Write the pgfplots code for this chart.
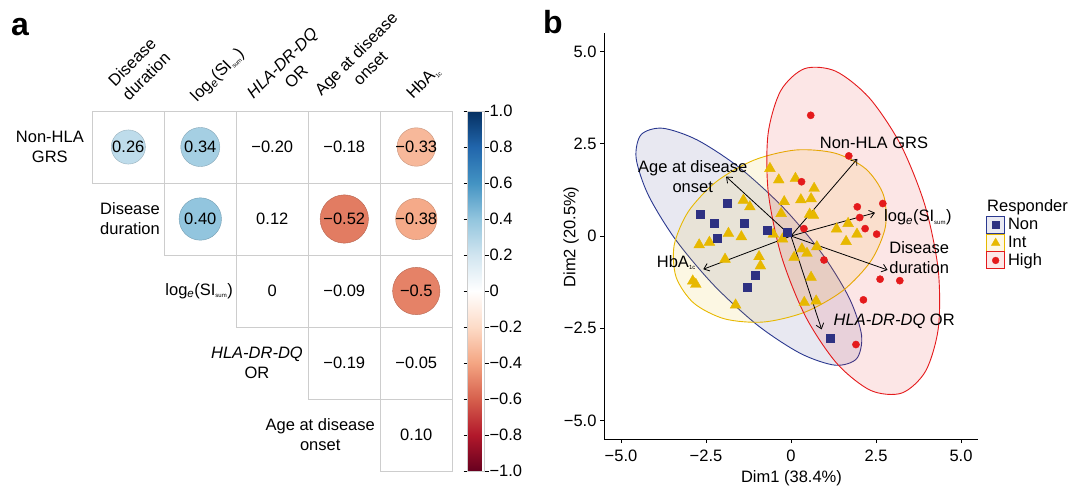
\documentclass[border=0pt]{standalone}
\usepackage{fontspec}
\setmainfont{Liberation Sans}
\usepackage{pgfplots}
\pgfplotsset{compat=1.18}
\usepackage{pgfplotstable}
\usetikzlibrary{arrows.meta}

\definecolor{nonc}{RGB}{46,49,130}
\definecolor{nonline}{RGB}{43,57,144}
\definecolor{intc}{RGB}{231,184,0}
\definecolor{highc}{RGB}{228,26,28}
\definecolor{gridc}{RGB}{205,205,205}

\newcommand\lbl{\fontsize{16.5}{20}\selectfont}
\newcommand\tinysub[1]{\textsubscript{\fontsize{6}{6}\selectfont #1}}

% panel a: significant correlations (column, -row, r)
\pgfplotstableread{
c r val
0 0 0.26
1 0 0.34
4 0 -0.33
1 -1 0.40
3 -1 -0.52
4 -1 -0.38
4 -2 -0.50
}\corsig

% panel a: all printed coefficients
\pgfplotstableread{
c r lab
0 0 0.26
1 0 0.34
2 0 −0.20
3 0 −0.18
4 0 −0.33
1 -1 0.40
2 -1 0.12
3 -1 −0.52
4 -1 −0.38
2 -2 0
3 -2 −0.09
4 -2 −0.5
3 -3 −0.19
4 -3 −0.05
4 -4 0.10
}\corlab

% panel b: individuals
\pgfplotstableread{
x y
-1.89 0.88
-2.68 0.58
-2.27 0.34
-1.39 0.36
-2.16 -0.07
-0.71 0.15
-0.10 0.10
-1.06 -1.05
-1.30 -1.40
1.16 -2.76
}\nonpts

\pgfplotstableread{
x y
-0.62 1.83
-0.36 1.52
0.13 1.56
0.68 1.29
0.29 0.98
0.59 1.01
-0.20 0.93
-0.29 0.61
0.55 0.59
0.66 0.56
-1.40 0.97
-1.21 0.79
-1.84 0.07
-1.46 -0.02
-2.40 -0.17
-2.70 -0.24
-0.52 0.05
-0.25 -0.08
1.34 0.19
1.68 0.34
1.94 0.05
1.62 -0.15
0.32 -0.35
0.47 -0.47
0.09 -0.58
0.76 -0.29
-1.94 -0.63
-0.94 -0.56
-0.90 -0.81
0.59 -1.12
-2.89 -1.22
-2.80 -1.31
-1.63 -1.87
0.39 -1.80
0.74 -1.76
}\intpts

\pgfplotstableread{
x y
0.58 3.27
1.70 2.17
0.31 1.47
1.95 0.79
2.70 0.88
2.02 0.50
2.18 0.20
2.52 0.05
0.38 0.20
0.97 -0.65
2.62 -1.17
3.20 -1.21
2.13 -1.73
1.91 -2.94
}\highpts

% variable loadings (arrows from the origin)
\pgfplotstableread{
x y u v
0 0 -1.91 1.61
0 0 1.95 2.09
0 0 2.47 0.63
0 0 2.84 -0.92
0 0 0.90 -2.53
0 0 -2.58 -0.90
}\loadings

\begin{document}
\begin{tikzpicture}
\useasboundingbox (0pt,0pt) rectangle (1071pt,-488pt);

% ---------------- panel a ----------------
\node[anchor=base west, inner sep=0pt, font=\fontsize{32}{32}\selectfont\bfseries] at (11pt,-35pt) {a};

\foreach \r in {0,...,4}{
  \foreach \c in {\r,...,4}{
    \draw[gridc, line width=0.8pt] ({92.3pt+72pt*\c},{-111pt-72pt*\r}) rectangle ++(72pt,-72pt);
  }
}

\begin{axis}[
  at={(92.3pt,-471pt)}, anchor=south west,
  scale only axis, width=360pt, height=360pt,
  xmin=-0.5, xmax=4.5, ymin=-4.5, ymax=0.5,
  hide axis, clip=false,
  colormap={rdbu}{rgb255=(103,0,31) rgb255=(178,24,43) rgb255=(214,96,77)
    rgb255=(244,165,130) rgb255=(253,219,199) rgb255=(255,255,255)
    rgb255=(209,229,240) rgb255=(146,197,222) rgb255=(67,147,195)
    rgb255=(33,102,172) rgb255=(5,48,97)},
  point meta min=-1, point meta max=1,
  colorbar,
  colorbar style={
    at={(parent axis.north east)}, anchor=north west, xshift=6.7pt,
    scale only axis, width=17pt, height=360pt,
    ytick={-1,-0.8,-0.6,-0.4,-0.2,0,0.2,0.4,0.6,0.8,1},
    yticklabels={−1.0,−0.8,−0.6,−0.4,−0.2,0,0.2,0.4,0.6,0.8,1.0},
    yticklabel style={font=\lbl, xshift=-2.5pt},
    tick align=outside, major tick length=4pt,
    ytick style={draw=black, line width=0.6pt},
    axis line style={draw=gridc, line width=0.5pt},
  },
]
\addplot[scatter, only marks, mark=*, point meta=\thisrow{val},
  visualization depends on={33.5*sqrt(abs(\thisrow{val})) \as \msize},
  scatter/@pre marker code/.append style={/tikz/mark size=\msize pt}]
  table[x=c, y=r] {\corsig};
\addplot[only marks, mark=none, nodes near coords, point meta=explicit symbolic,
  every node near coord/.append style={font=\lbl, inner sep=0pt, anchor=center}]
  table[x=c, y=r, meta=lab] {\corlab};
\end{axis}

% row labels
\begin{scope}[every node/.style={font=\lbl, align=center, anchor=east, inner sep=0pt}]
\node at (84pt,-147pt) {Non-HLA\\GRS};
\node at (160pt,-219pt) {Disease\\duration};
\node at (233pt,-291pt) {log\textsubscript{\itshape e}(SI\tinysub{sum})};
\node at (303pt,-363pt) {\textit{HLA-DR-DQ}\\OR};
\node at (375pt,-435pt) {Age at disease\\onset};
\end{scope}

% column labels
\begin{scope}[every node/.style={font=\lbl, align=center, rotate=45, inner sep=0pt}]
\node[anchor=south] at (150.5pt,-80.6pt) {Disease\\duration};
\node[anchor=base] at (221pt,-78.4pt) {log\textsubscript{\itshape e}(SI\tinysub{sum})};
\node[anchor=south] at (300.5pt,-81.3pt) {\textit{HLA-DR-DQ}\\OR};
\node[anchor=south] at (374.5pt,-72.4pt) {Age at disease\\onset};
\node[anchor=base] at (427pt,-86pt) {HbA\tinysub{1c}};
\end{scope}

% ---------------- panel b ----------------
\node[anchor=base west, inner sep=0pt, font=\fontsize{32}{32}\selectfont\bfseries] at (543pt,-33pt) {b};

\begin{axis}[
  at={(604pt,-439pt)}, anchor=south west,
  scale only axis, width=374pt, height=406pt,
  xmin=-5.5, xmax=5.5, ymin=-5.5, ymax=5.5,
  axis x line*=bottom, axis y line*=left,
  axis line style={line width=0.9pt, -},
  xtick={-5,-2.5,0,2.5,5}, ytick={-5,-2.5,0,2.5,5},
  xticklabels={−5.0,−2.5,0,2.5,5.0},
  yticklabels={−5.0,−2.5,0,2.5,5.0},
  tick align=outside, major tick length=4pt,
  tick style={black, line width=0.9pt},
  ticklabel style={font=\lbl},
  xticklabel style={yshift=-3pt},
  clip=false,
  legend style={at={(1.0214,0.5505)}, anchor=north west, draw=none, fill=none,
    inner sep=0pt, row sep=0pt, column sep=2pt, font=\lbl,
    nodes={inner sep=0.9pt}},
  legend cell align=left,
]
% confidence ellipses
\addplot[forget plot, smooth cycle, draw=nonline, line width=0.9pt, fill=nonc, fill opacity=0.11]
  coordinates {(1.928,-3.326) (2.075,-2.690) (1.717,-1.688) (0.910,-0.475)
  (-0.226,0.768) (-1.516,1.851) (-2.763,2.604) (-3.779,2.920) (-4.408,2.746)
  (-4.555,2.110) (-4.197,1.108) (-3.390,-0.105) (-2.254,-1.348) (-0.964,-2.431)
  (0.283,-3.184) (1.299,-3.500)};
\addplot[forget plot, smooth cycle, draw=intc, line width=0.9pt, fill=intc, fill opacity=0.11]
  coordinates {(2.718,1.117) (2.197,1.820) (1.292,2.245) (0.140,2.330)
  (-1.084,2.058) (-2.194,1.474) (-3.018,0.665) (-3.435,-0.244) (-3.378,-1.117)
  (-2.857,-1.820) (-1.952,-2.245) (-0.800,-2.330) (0.424,-2.058) (1.534,-1.474)
  (2.358,-0.665) (2.775,0.244)};
\addplot[forget plot, smooth cycle, draw=highc, line width=0.9pt, fill=highc, fill opacity=0.11]
  coordinates {(0.398,4.534) (1.316,4.464) (2.311,3.733) (3.233,2.459)
  (3.941,0.828) (4.329,-0.907) (4.335,-2.481) (3.962,-3.656) (3.262,-4.254)
  (2.344,-4.184) (1.349,-3.453) (0.427,-2.179) (-0.281,-0.548) (-0.669,1.187)
  (-0.675,2.761) (-0.302,3.936)};
% individuals
\addplot[forget plot, only marks, mark=triangle*, mark size=6.2pt, color=intc] table {\intpts};
\addplot[forget plot, only marks, mark=square*, mark size=4pt, color=nonc] table {\nonpts};
\addplot[forget plot, only marks, mark=*, mark size=3.6pt, color=highc] table {\highpts};
% variables
\addplot[forget plot, quiver={u=\thisrow{u}, v=\thisrow{v}}, black, line width=0.8pt,
  -{Straight Barb[length=5pt, width=8pt]}] table {\loadings};

\begin{scope}[every node/.style={font=\lbl, align=center, inner sep=0pt}]
\node at (axis cs:2.44,2.52) {Non-HLA GRS};
\node at (axis cs:-2.89,1.60) {Age at disease\\onset};
\node[anchor=west] at (axis cs:2.735,0.50) {log\textsubscript{\itshape e}(SI\tinysub{sum})};
\node at (axis cs:3.77,-0.59) {Disease\\duration};
\node[anchor=west] at (axis cs:-3.95,-0.72) {HbA\tinysub{1c}};
\node[anchor=west] at (axis cs:1.25,-2.32) {\textit{HLA-DR-DQ} OR};
\end{scope}

% legend
\addlegendimage{legend image code/.code={
  \draw[nonline, fill=nonc!10, line width=0.9pt] (0pt,-8.5pt) rectangle (18pt,8.5pt);
  \draw[nonc, mark=square*, mark size=3.6pt] plot coordinates {(9pt,0pt)};}}
\addlegendentry{Non}
\addlegendimage{legend image code/.code={
  \draw[intc, fill=intc!10, line width=0.9pt] (0pt,-8.5pt) rectangle (18pt,8.5pt);
  \draw[intc, mark=triangle*, mark size=5pt] plot coordinates {(9pt,-0.5pt)};}}
\addlegendentry{Int}
\addlegendimage{legend image code/.code={
  \draw[highc, fill=highc!10, line width=0.9pt] (0pt,-8.5pt) rectangle (18pt,8.5pt);
  \draw[highc, mark=*, mark size=3.4pt] plot coordinates {(9pt,0pt)};}}
\addlegendentry{High}
\end{axis}

\node[font=\lbl, anchor=base west, inner sep=0pt] at (987pt,-211pt) {Responder};
\node[font=\lbl, anchor=center, inner sep=0pt] at (791.5pt,-478pt) {Dim1 (38.4\%)};
\node[font=\lbl, anchor=center, inner sep=0pt, rotate=90] at (571pt,-237pt) {Dim2 (20.5\%)};
\end{tikzpicture}
\end{document}
